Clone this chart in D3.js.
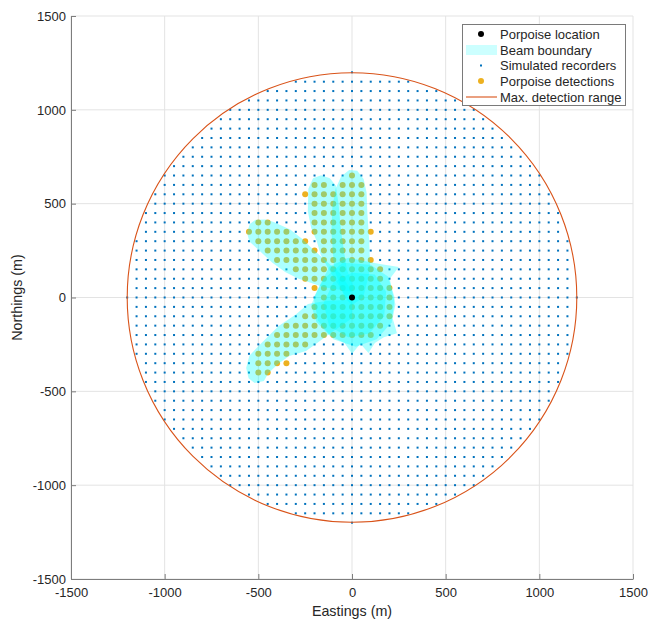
<!DOCTYPE html>
<html>
<head>
<meta charset="utf-8">
<script src="https://cdn.jsdelivr.net/npm/d3@7"></script>
<style>
  html, body { margin: 0; padding: 0; background: #fff; }
  svg { display: block; font-family: "Liberation Sans", Arial, Helvetica, sans-serif; }
</style>
</head>
<body>
<svg id="chart" width="648" height="621"></svg>
<script>
// ---------- data ----------
const xTicks = [-1500, -1000, -500, 0, 500, 1000, 1500];
const yTicks = [-1500, -1000, -500, 0, 500, 1000, 1500];
const xLabel = "Eastings (m)";
const yLabel = "Northings (m)";
const legendLabels = ["Porpoise location", "Beam boundary", "Simulated recorders", "Porpoise detections", "Max. detection range"];

const porpoiseLocation = [0, 0];
const maxDetectionRange = 1200;
// recorder grid coordinates (50 m spacing)
const recorderCoords = [-1200,-1150,-1100,-1050,-1000,-950,-900,-850,-800,-750,-700,-650,-600,-550,-500,-450,-400,-350,-300,-250,-200,-150,-100,-50,0,50,100,150,200,250,300,350,400,450,500,550,600,650,700,750,800,850,900,950,1000,1050,1100,1150,1200];

// porpoise detections: northing of each row and the eastings detected in it
const detectionRowY = [650, 600, 550, 500, 450, 400, 350, 300, 250, 200, 150, 100, 50, 0, -50, -100, -150, -200, -250, -300, -350, -400];
const detectionRowX = [
  [0],
  [-200,-150,-50,0,50],
  [-250,-200,-150,-100,-50,0,50],
  [-200,-150,-100,-50,0,50],
  [-200,-150,-100,-50,0,50],
  [-500,-450,-200,-150,-100,-50,0,50],
  [-550,-500,-450,-400,-350,-200,-150,-100,-50,0,50,100],
  [-500,-450,-400,-350,-300,-250,-150,-100,-50,0,50],
  [-450,-400,-350,-300,-250,-200,-150,-100,-50,0,50],
  [-400,-350,-300,-250,-200,-150,-100,-50,0,50,100],
  [-300,-250,-200,-150,-100,-50,0,50,100,150],
  [-250,-200,-150,-100,-50,0,50,100,150],
  [-200,-150,-100,-50,0,50,100,150,200],
  [-150,-100,-50,0,50,100,150,200],
  [-200,-150,-100,-50,0,50,100,150,200],
  [-250,-200,-150,-100,-50,0,50,100,150,200],
  [-350,-300,-250,-200,-150,-100,-50,0,50,100,150],
  [-400,-350,-300,-250,-200,-150,-100,-50,0,50,100],
  [-450,-400,-350,-300,-250],
  [-500,-450,-400,-350],
  [-500,-450,-400,-350],
  [-500,-450]
];

// beam boundary polygons (eastings, northings in m)
const beamNorth = [[-40,0],[-95,150],[-110,350],[-105,480],[-88,580],[-58,645],[-15,680],[28,675],[62,632],[78,560],[82,450],[92,300],[97,150],[60,0],[0,-40]];
const beamNorthWest = [[-30,0],[-125,150],[-168,230],[-188,300],[-218,370],[-236,460],[-233,580],[-208,635],[-165,652],[-118,635],[-86,595],[-72,500],[-58,350],[-28,150],[10,50]];
const beamWest = [[0,30],[-150,55],[-285,100],[-355,135],[-425,185],[-495,250],[-548,298],[-560,345],[-546,392],[-515,414],[-460,416],[-418,402],[-330,362],[-265,312],[-220,268],[-150,205],[-60,125]];
const beamSouthWest = [[0,-10],[-150,-20],[-235,-35],[-300,-90],[-390,-150],[-440,-200],[-495,-255],[-548,-310],[-565,-375],[-552,-430],[-520,-455],[-470,-445],[-448,-405],[-395,-355],[-335,-312],[-245,-285],[-175,-235],[-100,-180],[0,-110]];
const beamCentre1 = [[-180,50],[-120,165],[-20,212],[80,192],[150,178],[250,163],[202,100],[217,20],[232,-36],[217,-110],[240,-190],[170,-212],[122,-242],[88,-296],[45,-247],[0,-300],[-40,-242],[-120,-202],[-190,-130],[-218,-40]];
const beamCentre2 = [[-150,100],[-50,185],[100,175],[192,112],[228,0],[212,-132],[132,-222],[20,-262],[-100,-222],[-182,-122],[-205,0]];
const beamCentre3 = [[-100,80],[0,132],[122,122],[182,30],[172,-100],[92,-192],[-20,-212],[-122,-152],[-152,-30]];
const beams = [beamNorth, beamNorthWest, beamWest, beamSouthWest, beamCentre1, beamCentre2, beamCentre3];

// ---------- drawing ----------
(function () {
const svg = d3.select("#chart");
const pLeft = 71, pRight = 633, pTop = 16, pBottom = 579;
const x = d3.scaleLinear().domain([-1500, 1500]).range([pLeft, pRight]);
const y = d3.scaleLinear().domain([-1500, 1500]).range([pBottom, pTop]);

const colRecorder = "#0072BD", colDetect = "#EDB120", colRange = "#D95319", colBeam = "#00FFFF";
const textCol = "#262626", axisCol = "#7d7d7d", gridCol = "#e3e3e3";

// grid
const g = svg.append("g");
g.selectAll("line.gx").data(xTicks).join("line").attr("class", "gx")
  .attr("x1", d => x(d)).attr("x2", d => x(d)).attr("y1", pTop).attr("y2", pBottom)
  .attr("stroke", gridCol).attr("stroke-width", 1);
g.selectAll("line.gy").data(yTicks).join("line").attr("class", "gy")
  .attr("y1", d => y(d)).attr("y2", d => y(d)).attr("x1", pLeft).attr("x2", pRight)
  .attr("stroke", gridCol).attr("stroke-width", 1);

// recorders
const recorders = [];
recorderCoords.forEach(ry => recorderCoords.forEach(rx => {
  if (rx * rx + ry * ry <= maxDetectionRange * maxDetectionRange) recorders.push([rx, ry]);
}));
svg.append("g").selectAll("rect").data(recorders).join("rect")
  .attr("x", d => x(d[0]) - 1).attr("y", d => y(d[1]) - 1)
  .attr("width", 2).attr("height", 2).attr("fill", colRecorder);

// max range circle
svg.append("circle").attr("cx", x(0)).attr("cy", y(0))
  .attr("r", x(maxDetectionRange) - x(0))
  .attr("fill", "none").attr("stroke", colRange).attr("stroke-width", 1.1);

// detections
const detections = [];
detectionRowY.forEach((ry, i) => detectionRowX[i].forEach(rx => detections.push([rx, ry])));
svg.append("g").selectAll("circle").data(detections).join("circle")
  .attr("cx", d => x(d[0])).attr("cy", d => y(d[1])).attr("r", 3)
  .attr("fill", colDetect);

// beams
const line = d3.line().x(d => x(d[0])).y(d => y(d[1])).curve(d3.curveLinearClosed);
svg.append("g").selectAll("path").data(beams).join("path")
  .attr("d", line).attr("fill", colBeam).attr("fill-opacity", 0.33).attr("stroke", "none");

// porpoise location
svg.append("circle").attr("cx", x(porpoiseLocation[0])).attr("cy", y(porpoiseLocation[1]))
  .attr("r", 3).attr("fill", "#000");

// axes
const fmt = d => String(d);
const xAxis = d3.axisBottom(x).tickValues(xTicks).tickFormat(fmt).tickSizeInner(-5).tickSizeOuter(0).tickPadding(9);
const yAxis = d3.axisLeft(y).tickValues(yTicks).tickFormat(fmt).tickSizeInner(-5).tickSizeOuter(0).tickPadding(5);
const gx = svg.append("g").attr("transform", `translate(0,${pBottom})`).call(xAxis);
const gy = svg.append("g").attr("transform", `translate(${pLeft},0)`).call(yAxis);
[gx, gy].forEach(a => {
  a.select(".domain").attr("stroke", axisCol);
  a.selectAll(".tick line").attr("stroke", axisCol);
  a.selectAll(".tick text").attr("fill", textCol).style("font-size", "13px")
    .style("font-family", '"Liberation Sans", Arial, sans-serif');
});

svg.append("text").attr("x", (pLeft + pRight) / 2).attr("y", 616)
  .attr("text-anchor", "middle").attr("fill", textCol).style("font-size", "14.3px").text(xLabel);
svg.append("text").attr("transform", `translate(22,${(pTop + pBottom) / 2}) rotate(-90)`)
  .attr("text-anchor", "middle").attr("fill", textCol).style("font-size", "14.3px").text(yLabel);

// legend
const lg = svg.append("g");
lg.append("rect").attr("x", 462.5).attr("y", 24.5).attr("width", 163).attr("height", 81)
  .attr("fill", "#fff").attr("stroke", "#7a7a7a").attr("stroke-width", 1);
const rowY = [34, 50, 65.5, 81, 97];
lg.append("circle").attr("cx", 481).attr("cy", rowY[0]).attr("r", 3).attr("fill", "#000");
lg.append("rect").attr("x", 466).attr("y", rowY[1] - 5).attr("width", 31).attr("height", 10)
  .attr("fill", colBeam).attr("fill-opacity", 0.2);
lg.append("rect").attr("x", 480).attr("y", rowY[2] - 1).attr("width", 2).attr("height", 2).attr("fill", colRecorder);
lg.append("circle").attr("cx", 481).attr("cy", rowY[3]).attr("r", 3).attr("fill", colDetect);
lg.append("line").attr("x1", 466).attr("x2", 497).attr("y1", rowY[4]).attr("y2", rowY[4])
  .attr("stroke", colRange).attr("stroke-width", 1.1);
lg.selectAll("text.lt").data(legendLabels).join("text").attr("class", "lt")
  .attr("x", 500).attr("y", (d, i) => rowY[i]).attr("dy", "0.35em")
  .attr("fill", textCol).style("font-size", "13px").text(d => d);
})();
</script>
</body>
</html>
